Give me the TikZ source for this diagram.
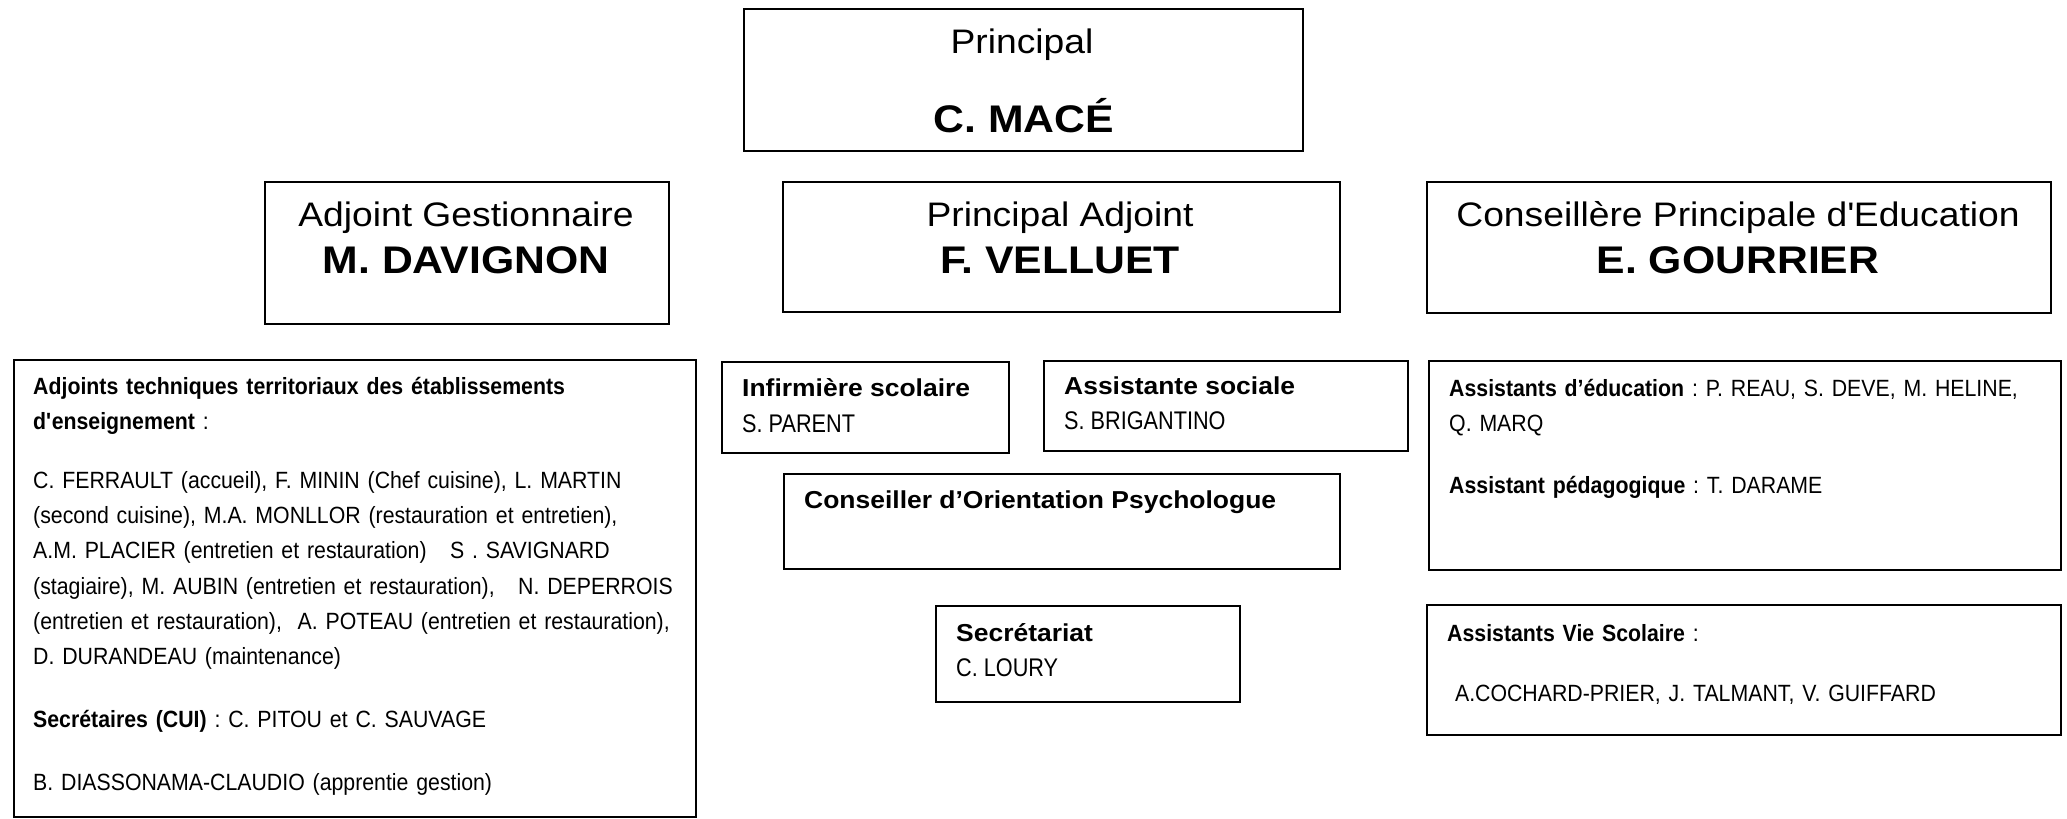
\documentclass[tikz,border=0pt]{standalone}
\usepackage{fontspec}
\setmainfont{Liberation Sans}
\newfontfamily\fA[FakeStretch=1.08]{Liberation Sans}
\newfontfamily\fR[FakeStretch=1.095]{Liberation Sans}
\newfontfamily\fT[FakeStretch=1.11]{Liberation Sans}
\newfontfamily\fN[FakeStretch=0.85]{Liberation Sans}
\newfontfamily\fB[FakeStretch=0.906]{Liberation Sans}
\setlength{\parindent}{0pt}
\frenchspacing
\begin{document}
\frenchspacing
\begin{tikzpicture}[x=1pt,y=-1pt,
  box/.style={draw=black, line width=1.8pt, inner sep=0pt, anchor=north west},
  ttl/.style={font=\fR\fontsize{34}{40}\selectfont, anchor=base, inner sep=0pt},
  ttlb/.style={font=\fT\bfseries\fontsize{38.5}{44}\selectfont, anchor=base, inner sep=0pt},
  hdr/.style={font=\fA\bfseries\fontsize{24.5}{30}\selectfont, anchor=base west, inner sep=0pt},
  nam/.style={font=\fN\fontsize{25.5}{30}\selectfont, anchor=base west, inner sep=0pt},
  body/.style={font=\fB\fontsize{23.5}{35.3}\selectfont\frenchspacing, anchor=base west, inner sep=0pt, text width=680pt, align=left},
]
\useasboundingbox (0,0) rectangle (2067,819);
\fill[white] (0,0) rectangle (2067,819);

% top level
\node[box, minimum width=559pt, minimum height=142pt] (pr) at (743,8) {};
\node[ttl] (prT) at (1022,53) {Principal};
\node[ttlb] (prN) at (1024,132) {C. MACÉ};

% second row
\node[box, minimum width=404pt, minimum height=142pt] (ag) at (264,181) {};
\node[ttl] (agT) at (466,226) {Adjoint Gestionnaire};
\node[ttlb] (agN) at (466,273) {M. DAVIGNON};

\node[box, minimum width=557pt, minimum height=130pt] (pa) at (782,181) {};
\node[ttl] (paT) at (1060,226) {Principal Adjoint};
\node[ttlb] (paN) at (1060,273) {F. VELLUET};

\node[box, minimum width=624pt, minimum height=131pt] (cpe) at (1426,181) {};
\node[ttl] (cpeT) at (1738,226) {Conseillère Principale d\textquotesingle Education};
\node[ttlb] (cpeN) at (1738,273) {E. GOURRIER};

% left staff box
\node[box, minimum width=682pt, minimum height=457pt] (att) at (13,359) {};
\node[body] (attT) at (33,394) {\textbf{Adjoints techniques territoriaux des établissements}\\
\textbf{d\textquotesingle enseignement} :\\[23.7pt]
C. FERRAULT (accueil), F. MININ (Chef cuisine), L. MARTIN\\
(second cuisine), M.A. MONLLOR (restauration et entretien),\\
A.M. PLACIER (entretien et restauration)\ \ \ S . SAVIGNARD\\
(stagiaire), M. AUBIN (entretien et restauration),\ \ \ N. DEPERROIS\\
(entretien et restauration),\ \ A. POTEAU (entretien et restauration),\\
D. DURANDEAU (maintenance)\\[27pt]
\textbf{Secrétaires (CUI)} : C. PITOU et C. SAUVAGE\\[27.7pt]
B. DIASSONAMA-CLAUDIO (apprentie gestion)};

% centre boxes
\node[box, minimum width=287pt, minimum height=91pt] (inf) at (721,361) {};
\node[hdr] (infT) at (742,396) {Infirmière scolaire};
\node[nam] (infN) at (742,432) {S. PARENT};

\node[box, minimum width=364pt, minimum height=90pt] (as) at (1043,360) {};
\node[hdr] (asT) at (1064,394) {Assistante sociale};
\node[nam] (asN) at (1064,429) {S. BRIGANTINO};

\node[box, minimum width=556pt, minimum height=95pt] (cop) at (783,473) {};
\node[hdr] (copT) at (804,508) {Conseiller d’Orientation Psychologue};

\node[box, minimum width=304pt, minimum height=96pt] (sec) at (935,605) {};
\node[hdr] (secT) at (956,641) {Secrétariat};
\node[nam] (secN) at (956,676) {C. LOURY};

% right boxes
\node[box, minimum width=632pt, minimum height=209pt] (ae) at (1428,360) {};
\node[body] (aeT) at (1449,396) {\textbf{Assistants d’éducation} : P. REAU, S. DEVE, M. HELINE,\\
Q. MARQ\\[27pt]
\textbf{Assistant pédagogique} : T. DARAME};

\node[box, minimum width=634pt, minimum height=130pt] (avs) at (1426,604) {};
\node[body] (avsT) at (1447,641) {\textbf{Assistants Vie Scolaire} :\\[25pt]
\ A.COCHARD-PRIER, J. TALMANT, V. GUIFFARD};
\end{tikzpicture}
\end{document}
